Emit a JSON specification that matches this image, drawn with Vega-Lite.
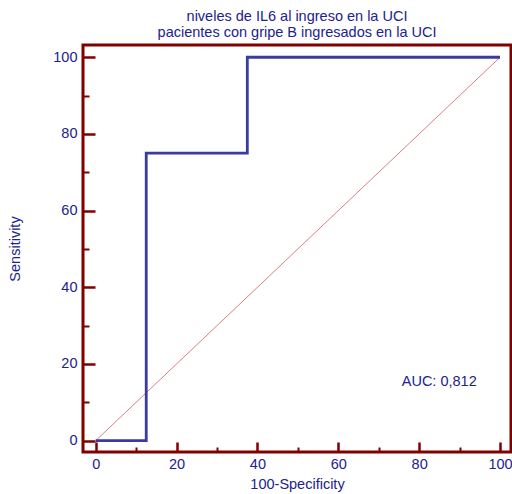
{
  "$schema": "https://vega.github.io/schema/vega-lite/v6.json",
  "autosize": "none",
  "padding": {"left": 83, "top": 45, "right": 1, "bottom": 42},
  "width": 428,
  "height": 407,
  "title": {
    "text": ["niveles de  IL6 al ingreso en la  UCI", "pacientes con gripe B  ingresados en la UCI"],
    "font": "Liberation Sans",
    "fontSize": 14.5,
    "fontWeight": "normal",
    "color": "#22228c",
    "anchor": "middle",
    "offset": 5,
    "lineHeight": 16
  },
  "config": {
    "view": {"stroke": "#800000", "strokeWidth": 3},
    "axis": {
      "domain": false,
      "grid": false,
      "tickColor": "#800000",
      "labelColor": "#22228c",
      "titleColor": "#22228c",
      "labelFont": "Liberation Sans",
      "titleFont": "Liberation Sans",
      "labelFontSize": 14.5,
      "titleFontSize": 14.5,
      "titleFontWeight": "normal"
    }
  },
  "datasets": {
    "roc": [
      {"i": 1, "fpr": 0, "tpr": 0},
      {"i": 2, "fpr": 12.5, "tpr": 0},
      {"i": 3, "fpr": 12.5, "tpr": 75},
      {"i": 4, "fpr": 37.5, "tpr": 75},
      {"i": 5, "fpr": 37.5, "tpr": 100},
      {"i": 6, "fpr": 100, "tpr": 100}
    ],
    "diag": [
      {"fpr": 0, "tpr": 0},
      {"fpr": 100, "tpr": 100}
    ],
    "auc": [
      {"fpr": 75.7, "tpr": 15.4, "label": "AUC: 0,812"}
    ]
  },
  "layer": [
    {
      "data": {"name": "diag"},
      "mark": {"type": "line", "color": "#c84848", "strokeWidth": 0.7, "clip": true},
      "encoding": {
        "x": {
          "field": "fpr", "type": "quantitative",
          "scale": {"domain": [-3.14, 102.72], "nice": false, "zero": false},
          "axis": {
            "title": "100-Specificity",
            "values": [0,5,10,15,20,25,30,35,40,45,50,55,60,65,70,75,80,85,90,95,100],
            "labelExpr": "datum.value % 20 === 0 ? datum.label : ''",
            "tickSize": {"condition": {"test": "datum.value % 20 === 0", "value": -10}, "value": -5},
            "tickWidth": {"condition": {"test": "datum.value % 20 === 0", "value": 2.5}, "value": 2},
            "labelPadding": 15,
            "titlePadding": 7
          }
        },
        "y": {
          "field": "tpr", "type": "quantitative",
          "scale": {"domain": [-2.96, 103.2], "nice": false, "zero": false},
          "axis": {
            "title": "Sensitivity",
            "values": [0,5,10,15,20,25,30,35,40,45,50,55,60,65,70,75,80,85,90,95,100],
            "labelExpr": "datum.value % 20 === 0 ? datum.label : ''",
            "tickSize": {"condition": {"test": "datum.value % 20 === 0", "value": -12}, "value": -6},
            "tickWidth": {"condition": {"test": "datum.value % 20 === 0", "value": 2.5}, "value": 2},
            "labelPadding": 18,
            "titlePadding": 30
          }
        }
      }
    },
    {
      "data": {"name": "roc"},
      "mark": {"type": "line", "color": "#3a3aa0", "strokeWidth": 2.8, "interpolate": "linear"},
      "encoding": {
        "x": {"field": "fpr", "type": "quantitative"},
        "y": {"field": "tpr", "type": "quantitative"},
        "order": {"field": "i", "type": "quantitative"}
      }
    },
    {
      "data": {"name": "auc"},
      "mark": {"type": "text", "align": "left", "baseline": "middle", "font": "Liberation Sans", "fontSize": 14.5, "color": "#22228c"},
      "encoding": {
        "x": {"field": "fpr", "type": "quantitative"},
        "y": {"field": "tpr", "type": "quantitative"},
        "text": {"field": "label"}
      }
    }
  ]
}
